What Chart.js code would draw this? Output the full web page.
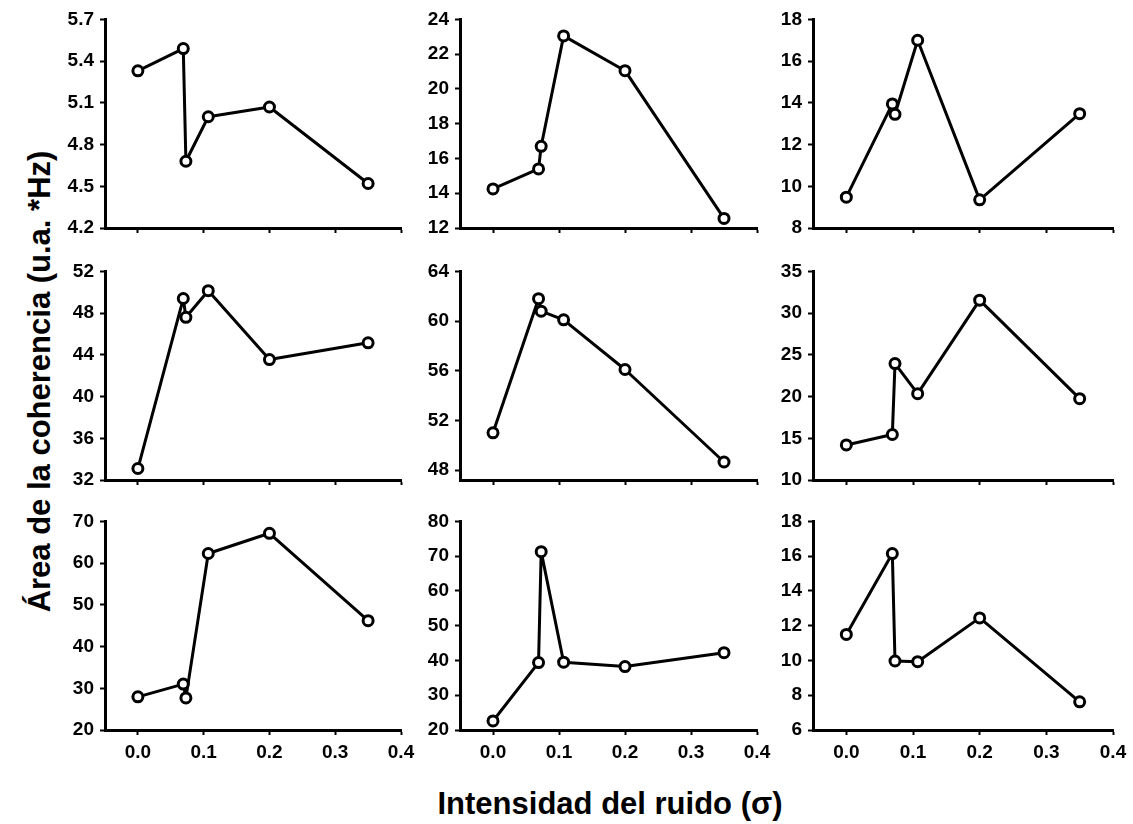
<!DOCTYPE html>
<html>
<head>
<meta charset="utf-8">
<script src="https://cdn.jsdelivr.net/npm/chart.js@4.4.0/dist/chart.umd.min.js"></script>
<style>
  body { margin: 0; background: #fff; width: 1133px; height: 824px; position: relative; overflow: hidden; font-family: "Liberation Sans", Arial, sans-serif; }
  canvas { position: absolute; }
  .axis-title { position: absolute; font-weight: bold; font-size: 31px; line-height: 31px; text-align: center; white-space: nowrap; color: #000; }
  #x-title { left: 310px; top: 788px; width: 600px; }
  #y-title { left: -211px; top: 366px; width: 500px; transform: rotate(-90deg); }
</style>
</head>
<body>
<div class="axis-title" id="x-title">Intensidad del ruido (σ)</div>
<div class="axis-title" id="y-title">Área de la coherencia (u.a. *Hz)</div>
<script>
// noise intensity (same for every panel)
const sigma = [0, 0.069, 0.073, 0.107, 0.2, 0.35];
const xTicks = [0.0, 0.1, 0.2, 0.3, 0.4];
const xMin = -0.05;

// coherence area, one array per panel (row by row)
const area1 = [5.33, 5.49, 4.68, 5.00, 5.07, 4.52];
const area2 = [14.25, 15.4, 16.7, 23.05, 21.05, 12.55];
const area3 = [9.48, 13.95, 13.45, 17.0, 9.35, 13.48];
const area4 = [33.1, 49.4, 47.6, 50.15, 43.55, 45.15];
const area5 = [51.0, 61.8, 60.8, 60.1, 56.1, 48.65];
const area6 = [14.2, 15.45, 23.95, 20.35, 31.55, 19.75];
const area7 = [27.95, 31.0, 27.7, 62.3, 67.15, 46.2];
const area8 = [22.6, 39.4, 71.3, 39.5, 38.25, 42.25];
const area9 = [11.5, 16.15, 9.97, 9.93, 12.45, 7.62];

// y tick labels per panel
const yTicks1 = [4.2, 4.5, 4.8, 5.1, 5.4, 5.7];
const yTicks2 = [12, 14, 16, 18, 20, 22, 24];
const yTicks3 = [8, 10, 12, 14, 16, 18];
const yTicks4 = [32, 36, 40, 44, 48, 52];
const yTicks5 = [48, 52, 56, 60, 64];
const yTicks6 = [10, 15, 20, 25, 30, 35];
const yTicks7 = [20, 30, 40, 50, 60, 70];
const yTicks8 = [20, 30, 40, 50, 60, 70, 80];
const yTicks9 = [6, 8, 10, 12, 14, 16, 18];
const yMin5 = 47.2; // that axis starts a bit under its first tick

const panels = [
  { values: area1, ticks: yTicks1, decimals: 1 },
  { values: area2, ticks: yTicks2 },
  { values: area3, ticks: yTicks3 },
  { values: area4, ticks: yTicks4 },
  { values: area5, ticks: yTicks5, min: yMin5 },
  { values: area6, ticks: yTicks6 },
  { values: area7, ticks: yTicks7 },
  { values: area8, ticks: yTicks8 },
  { values: area9, ticks: yTicks9 }
];

// plot-area edges on the page
const colLeft = [105, 460, 813];
const colRight = [401, 757, 1113];
const rowTop = [16, 268, 518];
const rowBottom = [228, 480, 730];

const Y_AXIS_W = 60;
const X_AXIS_H = 45;
const PAD_TOP = 14;
const PAD_RIGHT = 22;
const tickFont = { family: "'Liberation Sans', Arial, sans-serif", size: 19, weight: 'bold' };

panels.forEach((p, i) => {
  const col = i % 3;
  const row = Math.floor(i / 3);
  const left = colLeft[col], top = rowTop[row];
  const w = colRight[col] - left, h = rowBottom[row] - top;

  const canvas = document.createElement('canvas');
  canvas.width = w + Y_AXIS_W + PAD_RIGHT;
  canvas.height = h + PAD_TOP + X_AXIS_H;
  canvas.style.left = (left - Y_AXIS_W) + 'px';
  canvas.style.top = (top - PAD_TOP) + 'px';
  document.body.appendChild(canvas);

  const points = sigma.map((x, k) => ({ x: x, y: p.values[k] }));
  const showX = row === 2;

  new Chart(canvas.getContext('2d'), {
    type: 'line',
    data: {
      datasets: [{
        data: points,
        borderColor: '#000',
        borderWidth: 3,
        borderJoinStyle: 'round',
        borderCapStyle: 'round',
        tension: 0,
        pointRadius: 5,
        pointBorderWidth: 3,
        pointBackgroundColor: '#fff',
        pointBorderColor: '#000',
        clip: false
      }]
    },
    options: {
      responsive: false,
      devicePixelRatio: 1,
      animation: false,
      events: [],
      layout: { padding: { top: PAD_TOP, right: PAD_RIGHT, left: 0, bottom: 0 } },
      plugins: { legend: { display: false }, tooltip: { enabled: false } },
      scales: {
        x: {
          type: 'linear',
          min: xMin,
          max: xTicks[xTicks.length - 1],
          afterBuildTicks: s => { s.ticks = xTicks.map(v => ({ value: v })); },
          afterFit: s => { s.height = X_AXIS_H; },
          border: { display: true, color: '#000', width: 3 },
          grid: { display: true, drawOnChartArea: false, drawTicks: true, tickLength: 5, tickWidth: 2, tickColor: '#000' },
          ticks: {
            display: showX,
            color: '#000',
            font: tickFont,
            padding: 6,
            maxRotation: 0,
            callback: v => Number(v).toFixed(1)
          }
        },
        y: {
          type: 'linear',
          min: p.min !== undefined ? p.min : p.ticks[0],
          max: p.ticks[p.ticks.length - 1],
          afterBuildTicks: s => { s.ticks = p.ticks.map(v => ({ value: v })); },
          afterFit: s => { s.width = Y_AXIS_W; },
          border: { display: true, color: '#000', width: 3 },
          grid: { display: true, drawOnChartArea: false, drawTicks: true, tickLength: 5, tickWidth: 2, tickColor: '#000' },
          ticks: {
            color: '#000',
            font: tickFont,
            padding: 6,
            callback: v => Number(v).toFixed(p.decimals || 0)
          }
        }
      }
    }
  });
});
</script>
</body>
</html>
